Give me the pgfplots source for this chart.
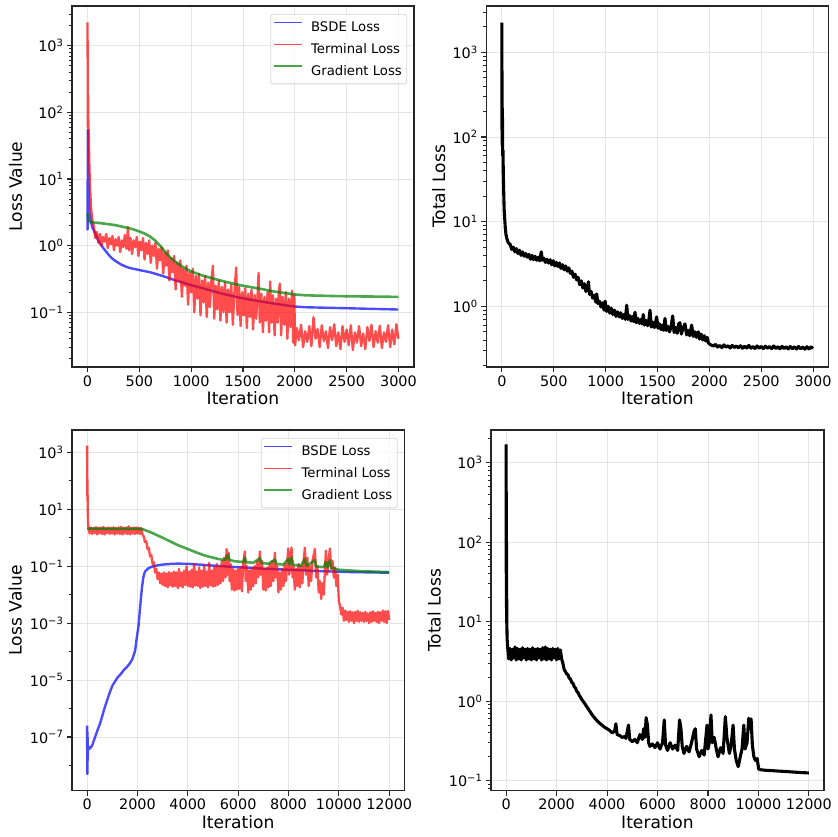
\documentclass[border=0pt]{standalone}
\usepackage{pgfplots}
\pgfplotsset{compat=1.18}
\usepackage{fontspec}
\setmainfont{DejaVu Sans}
\definecolor{mblue}{rgb}{0,0,1}
\definecolor{mred}{rgb}{1,0,0}
\definecolor{mgreen}{rgb}{0,0.5,0}
\tikzset{
 mybl/.style={draw=mblue, draw opacity=0.7, line width=2.4pt, line join=round},
 myrd/.style={draw=mred, draw opacity=0.7, line width=2.3pt, line join=round},
 mygr/.style={draw=mgreen, draw opacity=0.7, line width=2.6pt, line join=round},
 mybk/.style={draw=black, line width=3.1pt, line join=round},
}
\pgfplotsset{
 every axis/.append style={
  scale only axis, scaled x ticks=false,
  axis line style={black!85, line width=1.1pt},
  tick style={black!85, line width=1.1pt},
  minor tick style={line width=0.8pt},
  major tick length=5pt, minor tick length=3pt,
  tick align=outside, tick pos=left,
  xmajorgrids, ymajorgrids,
  major grid style={black!10, line width=0.9pt},
  tick label style={font=\fontsize{14.4}{16}\selectfont, text=black},
  label style={font=\fontsize{17.1}{20}\selectfont},
  legend cell align=left,
  legend style={at={(axis description cs:0.98,0.978)}, anchor=north east, draw=black!20, line width=0.8pt, rounded corners=2.5pt, fill=white, fill opacity=0.8, draw opacity=0.8, text opacity=1, font=\fontsize{13.2}{15}\selectfont, inner xsep=2.5pt, inner ysep=4.7pt, row sep=5.4pt, nodes={inner sep=2.5pt}, /tikz/every odd column/.append style={column sep=6pt}},
 },
 every axis x label/.style={at={(axis description cs:0.5,0)}, anchor=base, yshift=-38pt, font=\fontsize{17.1}{20}\selectfont},
 legend image code/.code={\draw[#1, line width=1.5pt] (0pt,4.7pt) -- (28pt,4.7pt);},
}
\begin{document}
\begin{tikzpicture}
\path[use as bounding box] (0,0) rectangle (838pt,836pt);
% ---------------- Panel A ----------------
\begin{axis}[ymode=log, at={(72pt,469pt)}, anchor=south west, width=342pt, height=361pt,
 every axis y label/.style={at={(axis description cs:0,0.5)}, xshift=-50pt, rotate=90, anchor=base, font=\fontsize{17.1}{20}\selectfont},
 xmin=-150, xmax=3150, ymin=0.0151, ymax=3945,
 xtick={0,500,1000,1500,2000,2500,3000}, xticklabels={0,500,1000,1500,2000,2500,3000},
 ytick={0.1,1,10,100,1000},
 yticklabels={10\textsuperscript{−1},10\textsuperscript{0},10\textsuperscript{1},10\textsuperscript{2},10\textsuperscript{3}},
 minor ytick={0.02,0.03,0.04,0.05,0.06,0.07,0.08,0.09,0.2,0.3,0.4,0.5,0.6,0.7,0.8,0.9,2,3,4,5,6,7,8,9,20,30,40,50,60,70,80,90,200,300,400,500,600,700,800,900,2000,3000},
 xlabel={Iteration}, ylabel={Loss Value}]
\addplot[mybl] coordinates {(0,1.7)(3,55)(6,20)(10,8)(15,4)(20,3)(30,2.4)(45,1.9)(60,1.7)(80,1.45)(100,1.22)(125,1.05)(150,0.93)(175,0.83)(200,0.74)(225,0.67)(250,0.62)(275,0.58)(300,0.55)(325,0.52)(350,0.5)(375,0.48)(400,0.465)(450,0.447)(500,0.43)(550,0.415)(600,0.4)(650,0.38)(700,0.36)(750,0.34)(800,0.32)(850,0.3)(900,0.285)(950,0.27)(1000,0.255)(1100,0.232)(1200,0.21)(1300,0.19)(1400,0.175)(1500,0.162)(1600,0.152)(1700,0.143)(1800,0.135)(1900,0.128)(2000,0.122)(2100,0.119)(2200,0.118)(2400,0.116)(2600,0.114)(2800,0.112)(2999,0.11)};
\addlegendentry{BSDE Loss}
\addplot[myrd] coordinates {(0,2240)(3,60)(6,180)(9,40)(12,55)(16,20)(20,12)(25,7)(30,5)(35,3.5)(40,3)(45,2.5)(50,2.2)
(60,2.0)(75,1.3)(90,1.6)(105,1.1)(120,1.5)(135,1.0)(150,1.35)(165,1.15)(180,1.5)(195,0.92)(210,1.3)(225,1.05)(240,1.4)(255,0.85)(270,1.25)(285,1.0)(300,1.35)(315,0.8)(330,1.2)(345,0.95)(360,1.45)(375,0.9)(390,1.9)(400,0.85)(415,1.3)(430,0.75)(445,1.2)(460,0.95)(475,1.35)(490,0.7)(505,1.15)(520,0.85)(535,1.3)(550,0.62)(565,1.1)(580,0.75)(595,1.2)(610,0.55)(625,1.0)(640,0.7)(655,1.1)(670,0.45)(685,0.9)(700,0.6)(715,0.95)(730,0.38)(745,0.8)(760,0.5)(775,0.85)(790,0.3)(805,0.65)(820,0.4)(835,0.7)(850,0.22)(865,0.55)(880,0.3)(895,0.6)(910,0.17)(925,0.45)(940,0.25)(955,0.5)(970,0.13)(985,0.4)(1000,0.2)(1015,0.45)(1030,0.1)(1045,0.35)(1060,0.16)(1075,0.38)(1090,0.09)(1105,0.3)(1120,0.14)(1135,0.35)(1150,0.085)(1165,0.28)(1180,0.12)(1195,0.3)(1210,0.5)(1222,0.08)(1237,0.25)(1252,0.11)(1267,0.3)(1282,0.075)(1297,0.24)(1312,0.1)(1327,0.28)(1342,0.07)(1357,0.22)(1372,0.1)(1387,0.26)(1402,0.065)(1417,0.2)(1434,0.47)(1447,0.09)(1462,0.24)(1477,0.062)(1492,0.2)(1507,0.09)(1522,0.23)(1537,0.058)(1552,0.19)(1567,0.085)(1582,0.22)(1597,0.055)(1612,0.18)(1627,0.08)(1642,0.2)(1650,0.39)(1662,0.07)(1677,0.19)(1692,0.05)(1707,0.17)(1722,0.075)(1737,0.2)(1752,0.05)(1762,0.29)(1775,0.07)(1790,0.18)(1805,0.045)(1820,0.16)(1835,0.07)(1845,0.2)(1855,0.27)(1868,0.045)(1883,0.17)(1898,0.065)(1913,0.2)(1928,0.04)(1943,0.16)(1958,0.06)(1973,0.21)(1985,0.035)(1995,0.18)(2003,0.032)
(2020,0.058)(2040,0.038)(2060,0.065)(2080,0.03)(2100,0.052)(2120,0.036)(2140,0.062)(2160,0.031)(2180,0.085)(2200,0.04)(2220,0.056)(2240,0.03)(2260,0.064)(2280,0.037)(2300,0.052)(2320,0.029)(2340,0.06)(2360,0.038)(2380,0.066)(2400,0.031)(2420,0.05)(2440,0.028)(2460,0.062)(2480,0.036)(2500,0.055)(2520,0.032)(2540,0.064)(2560,0.027)(2580,0.05)(2600,0.035)(2620,0.062)(2640,0.031)(2660,0.048)(2680,0.028)(2700,0.06)(2720,0.037)(2740,0.065)(2760,0.03)(2780,0.052)(2800,0.035)(2820,0.063)(2840,0.029)(2860,0.05)(2880,0.036)(2900,0.064)(2920,0.03)(2940,0.055)(2960,0.033)(2980,0.066)(2999,0.04)};
\addlegendentry{Terminal Loss}
\addplot[mygr] coordinates {(0,3.0)(5,2.6)(10,2.35)(30,2.25)(60,2.22)(100,2.2)(150,2.15)(200,2.1)(250,2.05)(300,1.98)(350,1.9)(400,1.83)(450,1.74)(500,1.63)(550,1.52)(600,1.38)(650,1.2)(700,1.0)(750,0.8)(800,0.66)(850,0.57)(900,0.5)(950,0.45)(1000,0.41)(1100,0.36)(1200,0.325)(1300,0.295)(1400,0.27)(1500,0.25)(1600,0.235)(1700,0.22)(1800,0.205)(1900,0.195)(2000,0.185)(2100,0.18)(2200,0.178)(2400,0.175)(2600,0.173)(2800,0.172)(2999,0.17)};
\addlegendentry{Gradient Loss}
\end{axis}
% ---------------- Panel B ----------------
\begin{axis}[ymode=log, at={(486.3pt,469pt)}, anchor=south west, width=342.4pt, height=361pt,
 every axis y label/.style={at={(axis description cs:0,0.5)}, xshift=-41.3pt, rotate=90, anchor=base, font=\fontsize{17.1}{20}\selectfont},
 xmin=-150, xmax=3150, ymin=0.192, ymax=3524,
 xtick={0,500,1000,1500,2000,2500,3000}, xticklabels={0,500,1000,1500,2000,2500,3000},
 ytick={1,10,100,1000},
 yticklabels={10\textsuperscript{0},10\textsuperscript{1},10\textsuperscript{2},10\textsuperscript{3}},
 minor ytick={0.2,0.3,0.4,0.5,0.6,0.7,0.8,0.9,2,3,4,5,6,7,8,9,20,30,40,50,60,70,80,90,200,300,400,500,600,700,800,900,2000,3000},
 xlabel={Iteration}, ylabel={Total Loss}]
\addplot[mybk] coordinates {(0,2240)(2,80)(5,220)(8,60)(11,70)(14,35)(18,22)(22,14)(27,11)(33,8.5)(40,7)(50,6.2)(60,5.7)(70,5.5)
(80,5.4)(95,4.7)(110,5.0)(125,4.4)(140,4.8)(155,4.2)(170,4.6)(185,4.0)(200,4.4)(215,3.9)(230,4.2)(245,3.8)(260,4.1)(275,3.6)(290,4.0)(305,3.55)(320,3.9)(335,3.5)(350,3.8)(365,3.45)(380,4.4)(390,3.5)(405,3.7)(420,3.3)(435,3.6)(450,3.25)(465,3.55)(480,3.1)(495,3.45)(510,3.0)(525,3.3)(540,2.95)(555,3.25)(570,2.8)(585,3.1)(600,2.7)(615,3.0)(630,2.6)(645,2.85)(660,2.45)(675,2.6)(690,2.2)(705,2.4)(720,2.05)(735,2.2)(750,1.8)(765,2.0)(780,1.65)(795,1.85)(810,1.5)(825,1.62)(834,1.95)(845,1.38)(860,1.5)(875,1.25)(890,1.35)(905,1.12)(914,1.4)(925,1.08)(940,1.15)(955,0.98)(970,1.1)(985,0.9)(995,1.15)(1010,0.87)(1025,1.0)(1040,0.83)(1055,0.95)(1070,0.8)(1085,0.9)(1100,0.76)(1115,0.86)(1130,0.75)(1145,0.84)(1160,0.72)(1175,0.8)(1190,0.7)(1203,1.03)(1215,0.7)(1230,0.78)(1245,0.67)(1260,0.76)(1270,0.66)(1283,0.85)(1295,0.64)(1310,0.72)(1325,0.63)(1340,0.7)(1350,0.62)(1363,0.8)(1375,0.6)(1390,0.68)(1405,0.59)(1415,0.66)(1428,0.9)(1440,0.57)(1455,0.65)(1470,0.56)(1480,0.63)(1492,0.75)(1505,0.55)(1520,0.62)(1535,0.53)(1550,0.6)(1560,0.52)(1572,0.72)(1585,0.52)(1600,0.58)(1615,0.5)(1630,0.56)(1646,0.77)(1660,0.49)(1675,0.56)(1690,0.48)(1703,0.62)(1716,0.64)(1730,0.47)(1745,0.55)(1765,0.62)(1780,0.46)(1795,0.52)(1810,0.45)(1829,0.6)(1845,0.44)(1860,0.5)(1875,0.43)(1893,0.5)(1905,0.41)(1920,0.47)(1935,0.4)(1950,0.45)(1965,0.39)(1980,0.43)(1990,0.37)(2000,0.36)(2015,0.35)
(2040,0.34)(2060,0.355)(2080,0.33)(2100,0.345)(2120,0.325)(2140,0.35)(2160,0.33)(2180,0.342)(2200,0.322)(2220,0.345)(2240,0.326)(2260,0.34)(2280,0.323)(2300,0.342)(2320,0.32)(2340,0.338)(2360,0.322)(2380,0.345)(2400,0.32)(2420,0.335)(2440,0.318)(2460,0.34)(2480,0.32)(2500,0.336)(2520,0.317)(2540,0.338)(2560,0.32)(2580,0.334)(2600,0.316)(2620,0.34)(2640,0.318)(2660,0.333)(2680,0.315)(2700,0.336)(2720,0.317)(2740,0.333)(2760,0.314)(2780,0.335)(2800,0.316)(2820,0.332)(2840,0.313)(2860,0.335)(2880,0.315)(2900,0.33)(2920,0.312)(2940,0.333)(2960,0.314)(2980,0.332)(2999,0.318)};
\end{axis}
% ---------------- Panel C ----------------
\begin{axis}[ymode=log, at={(72pt,45.3pt)}, anchor=south west, width=332.3pt, height=360.7pt,
 every axis y label/.style={at={(axis description cs:0,0.5)}, xshift=-50.3pt, rotate=90, anchor=base, font=\fontsize{17.1}{20}\selectfont},
 xmin=-600, xmax=12600, ymin=1.3e-9, ymax=6070,
 xtick={0,2000,4000,6000,8000,10000,12000}, xticklabels={0,2000,4000,6000,8000,10000,12000},
 ytick={1e-7,1e-5,1e-3,1e-1,10,1000},
 yticklabels={10\textsuperscript{−7},10\textsuperscript{−5},10\textsuperscript{−3},10\textsuperscript{−1},10\textsuperscript{1},10\textsuperscript{3}},
 minor ytick={1e-8,1e-6,1e-4,1e-2,1,100},
 xlabel={Iteration}, ylabel={Loss Value}]
\addplot[mybl] coordinates {(0,2.5e-7)(8,5e-9)(16,1.5e-7)(25,1.5e-8)(40,5e-8)(70,3.8e-8)(120,4e-8)(200,5e-8)(318,1e-7)(420,1.8e-7)(517,3e-7)(615,6e-7)(715,1.2e-6)(815,2.2e-6)(914,4e-6)(1010,6.5e-6)(1113,9e-6)(1200,1.2e-5)(1300,1.5e-5)(1378,1.8e-5)(1450,2.2e-5)(1550,2.7e-5)(1650,3.4e-5)(1709,4e-5)(1800,5.5e-5)(1860,8e-5)(1908,1.1e-4)(1960,2.5e-4)(2000,4.5e-4)(2040,7.6e-4)(2090,2.5e-3)(2133,6.6e-3)(2180,1.8e-2)(2239,4.3e-2)(2300,6.5e-2)(2437,8.5e-2)(2600,9.8e-2)(2800,0.107)(3000,0.114)(3300,0.12)(3600,0.123)(4000,0.121)(4500,0.113)(5000,0.105)(5500,0.098)(6000,0.092)(6500,0.087)(7000,0.082)(7500,0.078)(8000,0.075)(8500,0.072)(9000,0.069)(9500,0.066)(10000,0.064)(10500,0.062)(11000,0.061)(11500,0.06)(11999,0.059)};
\addlegendentry{BSDE Loss}
\addplot[myrd] coordinates {(0,1700)(8,30)(15,110)(25,8)(40,3)(60,2.2)
(100,1.4)(150,2.3)(200,1.35)(250,2.2)(300,1.45)(350,2.35)(400,1.3)(450,2.25)(500,1.4)(550,2.3)(600,1.35)(650,2.4)(700,1.3)(750,2.2)(800,1.45)(850,2.3)(900,1.35)(950,2.25)(1000,1.4)(1050,2.35)(1100,1.3)(1150,2.2)(1200,1.4)(1250,2.3)(1300,1.35)(1350,2.45)(1400,1.3)(1450,2.25)(1500,1.4)(1550,2.3)(1600,1.35)(1650,2.5)(1700,1.3)(1750,2.25)(1800,1.4)(1850,2.3)(1900,1.35)(1950,2.3)(2000,1.4)(2050,2.25)(2100,1.35)(2150,2.2)(2200,1.3)
(2250,1.1)(2300,0.7)(2350,0.75)(2400,0.4)(2450,0.45)(2500,0.22)(2550,0.25)(2600,0.12)(2650,0.14)(2700,0.06)(2750,0.08)(2800,0.035)(2850,0.06)(2900,0.025)(2950,0.055)(3000,0.022)
(3050,0.06)(3100,0.02)(3150,0.055)(3200,0.018)(3250,0.062)(3300,0.021)(3350,0.058)(3400,0.019)(3450,0.065)(3500,0.02)(3550,0.06)(3600,0.017)(3650,0.08)(3700,0.02)(3750,0.06)(3800,0.018)(3850,0.07)(3900,0.022)(3950,0.1)(4000,0.02)(4050,0.065)(4100,0.019)(4150,0.075)(4200,0.018)(4250,0.12)(4300,0.021)(4350,0.065)(4400,0.02)(4450,0.09)(4500,0.017)(4550,0.07)(4600,0.019)(4650,0.11)(4700,0.02)(4750,0.065)(4800,0.018)(4850,0.13)(4900,0.021)(4950,0.07)(5000,0.019)
(5050,0.09)(5100,0.02)(5150,0.12)(5200,0.022)(5250,0.1)(5300,0.025)(5350,0.15)(5400,0.03)(5450,0.2)(5500,0.04)(5540,0.4)(5580,0.05)(5620,0.3)(5660,0.03)(5700,0.12)(5750,0.015)(5800,0.08)(5850,0.014)(5900,0.07)(5950,0.015)(6000,0.08)(6050,0.016)(6100,0.09)(6150,0.013)(6200,0.12)(6266,0.33)(6300,0.03)(6350,0.1)(6400,0.012)(6450,0.07)(6500,0.015)(6550,0.09)(6600,0.02)(6650,0.1)(6700,0.025)(6750,0.15)(6800,0.04)(6864,0.33)(6900,0.05)(6950,0.15)(7000,0.015)(7050,0.08)(7100,0.014)(7150,0.09)(7200,0.018)(7250,0.12)(7300,0.02)(7350,0.15)(7400,0.03)(7460,0.3)(7500,0.04)(7550,0.1)(7600,0.012)(7650,0.06)(7700,0.015)(7750,0.08)(7800,0.02)(7850,0.12)(7900,0.03)(7989,0.42)(8030,0.05)(8080,0.2)(8121,0.45)(8160,0.04)(8200,0.1)(8250,0.015)(8300,0.08)(8350,0.02)(8400,0.12)(8450,0.018)(8500,0.1)(8550,0.025)(8600,0.15)(8650,0.45)(8700,0.05)(8750,0.2)(8800,0.02)(8850,0.1)(8900,0.03)(8950,0.15)(9048,0.4)(9100,0.04)(9150,0.1)(9200,0.012)(9250,0.03)(9300,0.007)(9350,0.025)(9400,0.01)(9450,0.08)(9485,0.35)(9530,0.05)(9580,0.12)(9644,0.42)(9700,0.08)(9750,0.15)(9800,0.04)(9850,0.09)(9900,0.02)(9950,0.05)(10000,0.006)(10050,0.004)(10100,0.002)(10150,0.0035)(10200,0.0012)
(10250,0.0028)(10300,0.0013)(10350,0.0025)(10400,0.0011)(10450,0.0026)(10500,0.0012)(10550,0.0024)(10600,0.001)(10650,0.0025)(10700,0.0012)(10750,0.0027)(10800,0.0011)(10850,0.0024)(10900,0.0012)(10950,0.0023)(11000,0.0011)(11050,0.0025)(11100,0.0012)(11150,0.0022)(11200,0.001)(11250,0.0024)(11300,0.0011)(11350,0.0026)(11400,0.0012)(11450,0.0023)(11500,0.0011)(11550,0.0025)(11600,0.001)(11650,0.0024)(11700,0.0012)(11750,0.0028)(11800,0.0011)(11850,0.0026)(11900,0.001)(11950,0.0027)(11999,0.0013)};
\addlegendentry{Terminal Loss}
\addplot[mygr] coordinates {(0,2.1)(100,2.05)(300,2.08)(500,2.04)(700,2.07)(900,2.03)(1100,2.06)(1300,2.04)(1500,2.07)(1700,2.03)(1900,2.06)(2100,2.02)(2200,2.0)(2300,1.85)(2400,1.72)(2600,1.45)(2800,1.2)(3000,1.0)(3200,0.82)(3400,0.67)(3600,0.55)(3800,0.47)(4000,0.4)(4200,0.34)(4400,0.29)(4600,0.25)(4800,0.22)(5000,0.2)(5200,0.18)(5400,0.168)(5500,0.17)(5550,0.22)(5600,0.25)(5650,0.17)(5800,0.152)(6000,0.145)(6200,0.14)(6266,0.2)(6320,0.138)(6600,0.132)(6864,0.19)(6920,0.13)(7200,0.122)(7460,0.17)(7520,0.12)(7800,0.114)(7989,0.18)(8050,0.115)(8121,0.2)(8200,0.11)(8500,0.105)(8650,0.18)(8720,0.102)(9048,0.16)(9100,0.097)(9400,0.092)(9485,0.14)(9550,0.09)(9644,0.16)(9700,0.088)(9850,0.08)(10000,0.075)(10300,0.072)(10600,0.069)(11000,0.066)(11500,0.064)(11999,0.062)};
\addlegendentry{Gradient Loss}
\end{axis}
% ---------------- Panel D ----------------
\begin{axis}[ymode=log, at={(491pt,45.3pt)}, anchor=south west, width=333pt, height=360.7pt,
 every axis y label/.style={at={(axis description cs:0,0.5)}, xshift=-50.3pt, rotate=90, anchor=base, font=\fontsize{17.1}{20}\selectfont},
 xmin=-600, xmax=12600, ymin=0.0748, ymax=2576,
 xtick={0,2000,4000,6000,8000,10000,12000}, xticklabels={0,2000,4000,6000,8000,10000,12000},
 ytick={0.1,1,10,100,1000},
 yticklabels={10\textsuperscript{−1},10\textsuperscript{0},10\textsuperscript{1},10\textsuperscript{2},10\textsuperscript{3}},
 minor ytick={0.08,0.09,0.2,0.3,0.4,0.5,0.6,0.7,0.8,0.9,2,3,4,5,6,7,8,9,20,30,40,50,60,70,80,90,200,300,400,500,600,700,800,900,2000},
 xlabel={Iteration}, ylabel={Total Loss}]
\addplot[mybk] coordinates {(0,1700)(8,15)(15,100)(25,10)(40,6)(60,4.8)
(100,3.4)(150,4.6)(200,3.3)(250,4.5)(300,3.5)(350,4.8)(400,3.3)(450,4.6)(500,3.4)(550,4.5)(600,3.3)(650,4.7)(700,3.5)(750,4.5)(800,3.3)(850,4.6)(900,3.4)(950,4.5)(1000,3.3)(1050,4.7)(1100,3.4)(1150,4.5)(1200,3.3)(1250,4.6)(1300,3.5)(1350,4.5)(1400,3.3)(1450,4.7)(1500,3.4)(1550,4.8)(1600,3.3)(1650,4.6)(1700,3.4)(1750,4.5)(1800,3.3)(1850,4.6)(1900,3.5)(1950,4.5)(2000,3.3)(2050,4.6)(2100,3.4)(2150,4.4)(2200,3.4)
(2250,3.0)(2300,2.5)(2350,2.35)(2400,2.2)(2450,2.15)(2500,1.95)(2550,1.9)(2600,1.72)(2650,1.68)(2700,1.52)(2750,1.46)(2800,1.33)(2850,1.28)(2900,1.18)(2950,1.12)(3000,1.05)(3100,0.95)(3200,0.85)(3300,0.76)(3400,0.68)(3500,0.62)(3600,0.57)(3700,0.53)(3800,0.5)(3900,0.47)(4000,0.45)(4100,0.43)(4200,0.4)(4300,0.42)(4350,0.52)(4400,0.38)(4500,0.37)(4600,0.35)(4700,0.36)(4750,0.34)(4850,0.5)(4900,0.33)(5000,0.31)(5100,0.33)(5200,0.3)(5300,0.38)(5400,0.33)(5450,0.45)(5500,0.35)(5550,0.62)(5600,0.5)(5650,0.3)(5700,0.27)(5800,0.29)(5900,0.26)(6000,0.3)(6100,0.25)(6200,0.3)(6266,0.58)(6320,0.28)(6400,0.24)(6500,0.3)(6600,0.25)(6700,0.28)(6800,0.24)(6875,0.58)(6930,0.45)(6980,0.27)(7050,0.22)(7150,0.27)(7250,0.23)(7350,0.3)(7450,0.42)(7498,0.45)(7550,0.25)(7650,0.2)(7750,0.24)(7850,0.21)(7963,0.5)(8000,0.25)(8050,0.3)(8120,0.67)(8170,0.3)(8250,0.35)(8330,0.25)(8400,0.2)(8500,0.26)(8600,0.22)(8690,0.64)(8750,0.35)(8850,0.22)(8920,0.28)(8996,0.5)(9050,0.25)(9120,0.18)(9200,0.15)(9280,0.2)(9350,0.25)(9420,0.5)(9470,0.25)(9550,0.3)(9617,0.61)(9660,0.45)(9710,0.6)(9760,0.28)(9820,0.2)(9880,0.18)(9950,0.19)(10010,0.14)(10100,0.137)(10300,0.135)(10500,0.134)(10800,0.132)(11000,0.131)(11300,0.129)(11600,0.127)(11800,0.126)(11999,0.125)};
\end{axis}
\end{tikzpicture}
\end{document}
